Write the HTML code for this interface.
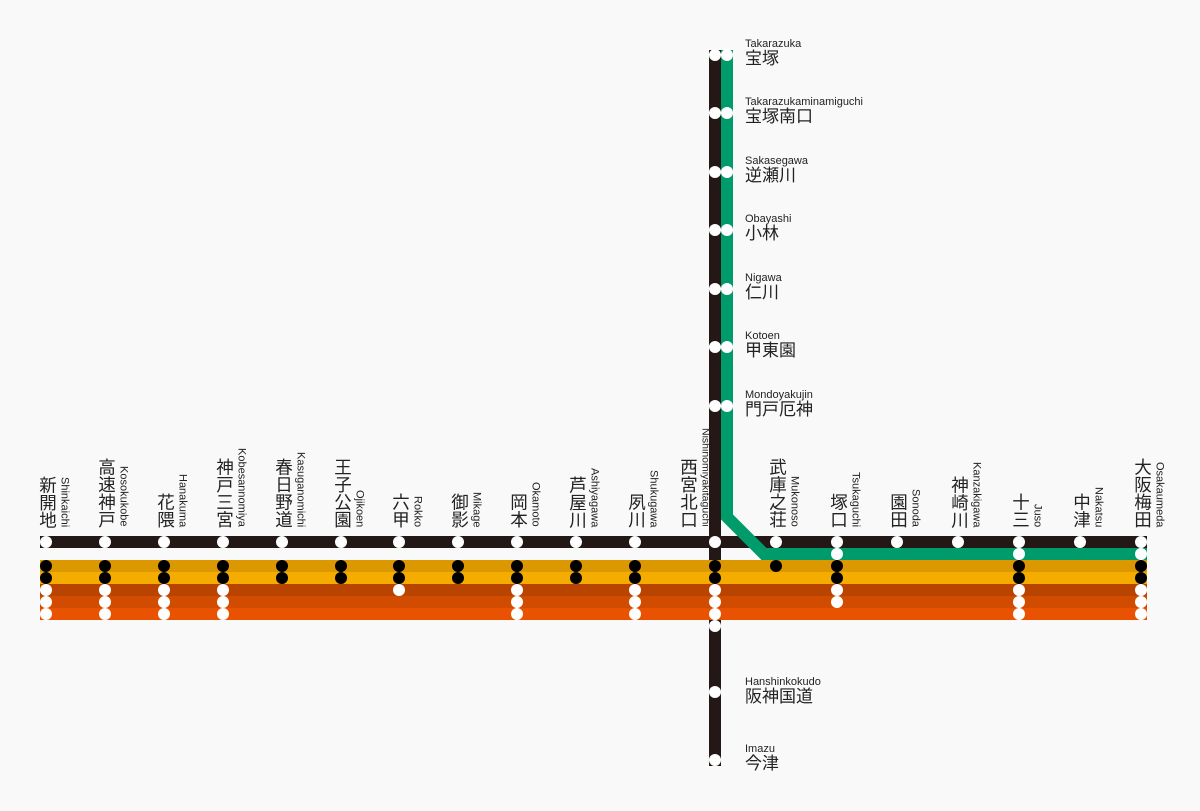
<!DOCTYPE html>
<html><head><meta charset="utf-8"><style>
body{margin:0;background:#f9f9f9;width:1200px;height:811px;position:relative;overflow:hidden;font-family:"Liberation Sans","Noto Sans CJK JP",sans-serif;color:#222}
svg{position:absolute;left:0;top:0}
.h{position:absolute;bottom:284px;width:60px;display:flex;align-items:flex-end;justify-content:center;gap:2px}
.h .k{writing-mode:vertical-rl;text-orientation:upright;font-size:17.5px;line-height:19px;letter-spacing:0px;margin-bottom:-1px}
.h .r{writing-mode:vertical-rl;font-size:11px;line-height:12px}
.v{position:absolute;left:745px}
.v .r{font-size:11px;line-height:12px;display:block}
.v .k{font-size:17px;line-height:18px;display:block}
</style></head><body>
<svg width="1200" height="811">
<rect x="709" y="50" width="12" height="716" fill="#231815"/>
<rect x="40" y="560" width="1107" height="12" fill="#dc9800"/>
<rect x="40" y="572" width="1107" height="12" fill="#f5ac00"/>
<rect x="40" y="584" width="1107" height="12" fill="#b94400"/>
<rect x="40" y="596" width="1107" height="12" fill="#d14b00"/>
<rect x="40" y="608" width="1107" height="12" fill="#e85200"/>
<rect x="40" y="536" width="1107" height="12" fill="#231815"/>
<polyline points="727,50 727,517 764,554 1147,554" fill="none" stroke="#009b6b" stroke-width="12"/>
<g id="d"></g>
</svg>
<script>
var W='#fff',B='#000';
var st=[[46,[W,0,B,B,W,W,W]],[105,[W,0,B,B,W,W,W]],[164,[W,0,B,B,W,W,W]],[223,[W,0,B,B,W,W,W]],
[282,[W,0,B,B]],[341,[W,0,B,B]],[399,[W,0,B,B,W]],[458,[W,0,B,B]],[517,[W,0,B,B,W,W,W]],[576,[W,0,B,B]],
[635,[W,0,B,B,W,W,W]],[715,[W,0,B,B,W,W,W,W]],[776,[W,0,B]],[837,[W,W,B,B,W,W]],[897,[W]],[958,[W]],
[1019,[W,W,B,B,W,W,W]],[1080,[W]],[1141,[W,W,B,B,W,W,W]]];
var s='';
st.forEach(function(a){a[1].forEach(function(c,i){if(c)s+='<circle cx="'+a[0]+'" cy="'+(542+12*i)+'" r="6" fill="'+c+'"/>';});});
[55,113,172,230,289,347,406].forEach(function(y){s+='<circle cx="715" cy="'+y+'" r="6" fill="#fff"/><circle cx="727" cy="'+y+'" r="6" fill="#fff"/>';});
[692,760].forEach(function(y){s+='<circle cx="715" cy="'+y+'" r="6" fill="#fff"/>';});
document.getElementById('d').innerHTML=s;
</script>
<div class="h" style="left:24px"><span class="k">新開地</span><span class="r">Shinkaichi</span></div>
<div class="h" style="left:83px"><span class="k">高速神戸</span><span class="r">Kosokukobe</span></div>
<div class="h" style="left:142px"><span class="k">花隈</span><span class="r">Hanakuma</span></div>
<div class="h" style="left:201px"><span class="k">神戸三宮</span><span class="r">Kobesannomiya</span></div>
<div class="h" style="left:260px"><span class="k">春日野道</span><span class="r">Kasuganomichi</span></div>
<div class="h" style="left:319px"><span class="k">王子公園</span><span class="r">Ojikoen</span></div>
<div class="h" style="left:377px"><span class="k">六甲</span><span class="r">Rokko</span></div>
<div class="h" style="left:436px"><span class="k">御影</span><span class="r">Mikage</span></div>
<div class="h" style="left:495px"><span class="k">岡本</span><span class="r">Okamoto</span></div>
<div class="h" style="left:554px"><span class="k">芦屋川</span><span class="r">Ashiyagawa</span></div>
<div class="h" style="left:613px"><span class="k">夙川</span><span class="r">Shukugawa</span></div>
<div class="h" style="left:665px"><span class="k">西宮北口</span><span class="r" style="font-size:10.5px">Nishinomiyakitaguchi</span></div>
<div class="h" style="left:754px"><span class="k">武庫之荘</span><span class="r">Mukonoso</span></div>
<div class="h" style="left:815px"><span class="k">塚口</span><span class="r">Tsukaguchi</span></div>
<div class="h" style="left:875px"><span class="k">園田</span><span class="r">Sonoda</span></div>
<div class="h" style="left:936px"><span class="k">神崎川</span><span class="r">Kanzakigawa</span></div>
<div class="h" style="left:997px"><span class="k">十三</span><span class="r">Juso</span></div>
<div class="h" style="left:1058px"><span class="k">中津</span><span class="r">Nakatsu</span></div>
<div class="h" style="left:1119px"><span class="k">大阪梅田</span><span class="r">Osakaumeda</span></div>
<div class="v" style="top:38px"><span class="r">Takarazuka</span><span class="k">宝塚</span></div>
<div class="v" style="top:96px"><span class="r">Takarazukaminamiguchi</span><span class="k">宝塚南口</span></div>
<div class="v" style="top:155px"><span class="r">Sakasegawa</span><span class="k">逆瀬川</span></div>
<div class="v" style="top:213px"><span class="r">Obayashi</span><span class="k">小林</span></div>
<div class="v" style="top:272px"><span class="r">Nigawa</span><span class="k">仁川</span></div>
<div class="v" style="top:330px"><span class="r">Kotoen</span><span class="k">甲東園</span></div>
<div class="v" style="top:389px"><span class="r">Mondoyakujin</span><span class="k">門戸厄神</span></div>
<div class="v" style="top:676px"><span class="r">Hanshinkokudo</span><span class="k">阪神国道</span></div>
<div class="v" style="top:743px"><span class="r">Imazu</span><span class="k">今津</span></div>
</body></html>
